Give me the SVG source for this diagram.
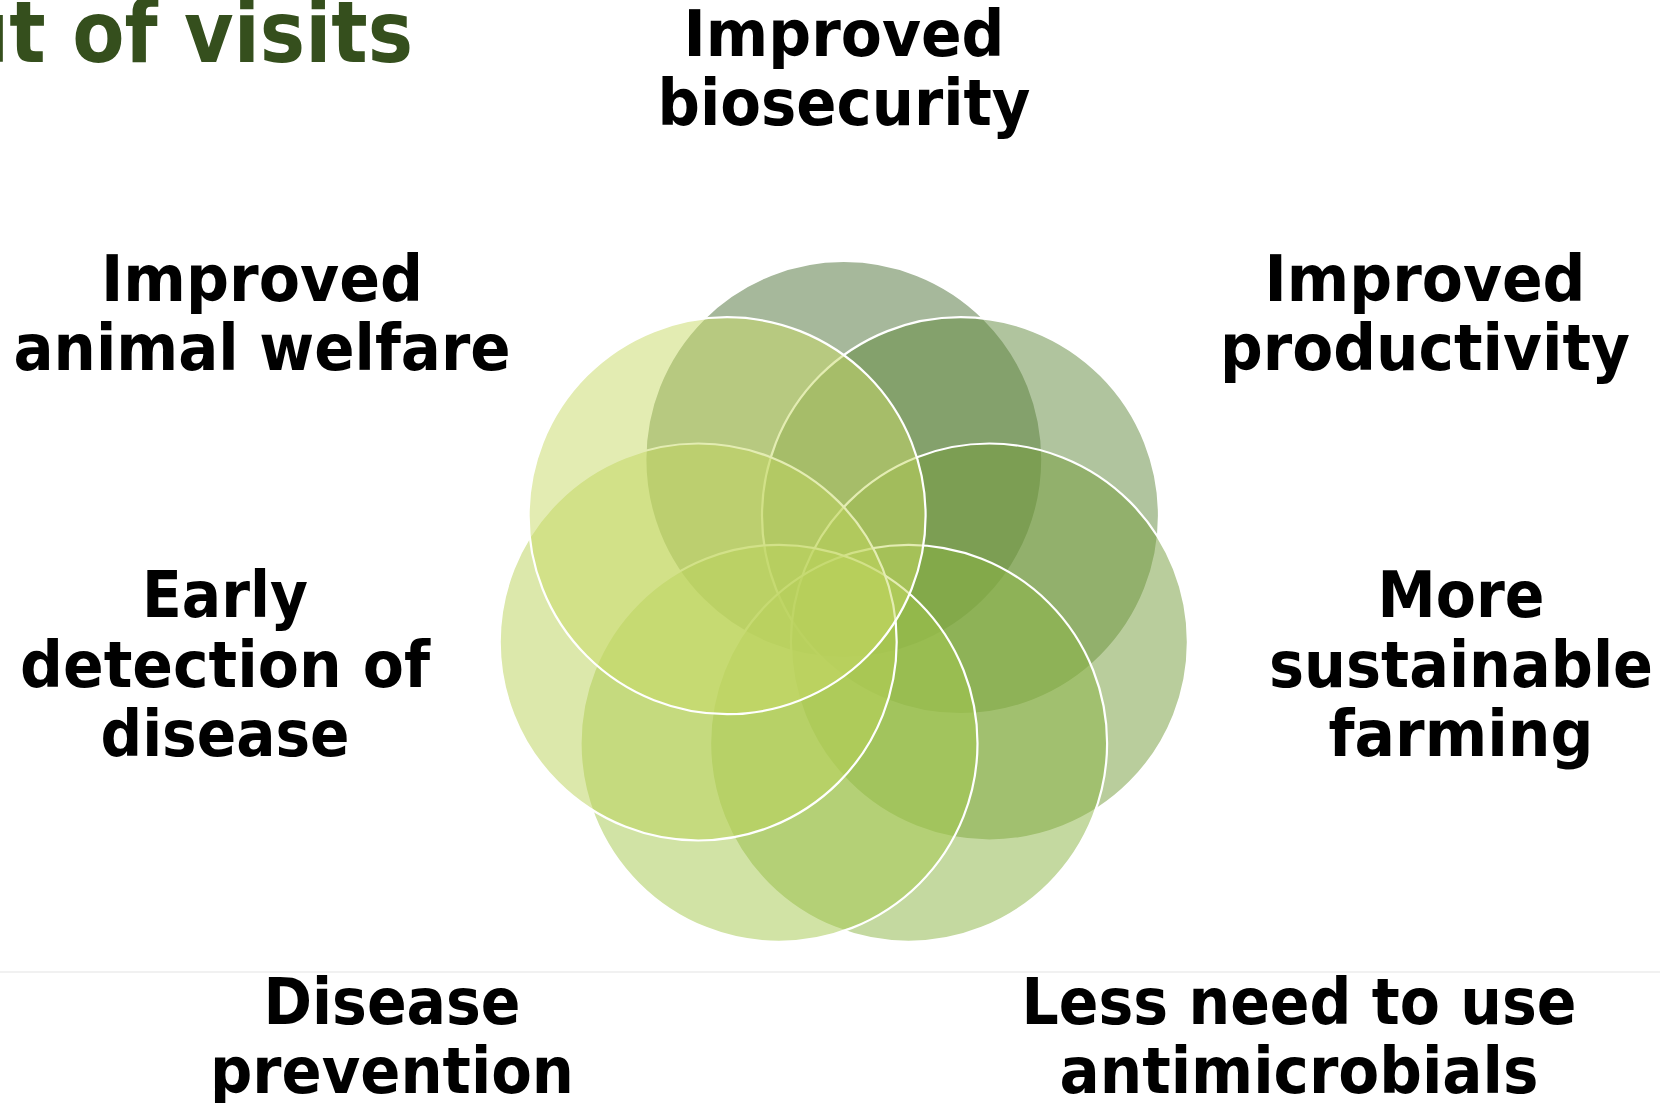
<svg xmlns="http://www.w3.org/2000/svg" width="1660" height="1103" viewBox="0 0 1660 1103">
<defs>
<style>
.lbl{font-family:"DejaVu Sans","Liberation Sans",sans-serif;font-weight:700;font-size:64px;fill:#000;text-anchor:middle}
.ttl{font-family:"DejaVu Sans","Liberation Sans",sans-serif;font-weight:700;font-size:86px;fill:#354f1d;text-anchor:end}
.c{fill-opacity:0.5;stroke:#fff;stroke-width:2.2}
</style>
</defs>
<rect width="1660" height="1103" fill="#fff"/>
<g id="title"><text class="ttl" x="413" y="62" textLength="458" lengthAdjust="spacingAndGlyphs">ut of visits</text></g>
<g id="divider"><line x1="0" y1="972" x2="1660" y2="972" stroke="#ececec" stroke-width="1.5"/></g>
<g id="circles">
<circle id="c-top" class="c" cx="843.8" cy="459.5" r="198.5" fill="#4d7137" stroke="none"/>
<circle id="c-ur" class="c" cx="960.5" cy="515.7" r="198.5" fill="#61893d"/>
<circle id="c-r" class="c" cx="989.4" cy="642.0" r="198.5" fill="#739b39"/>
<circle id="c-br" class="c" cx="908.6" cy="743.3" r="198.5" fill="#89b341"/>
<circle id="c-bl" class="c" cx="779.0" cy="743.3" r="198.5" fill="#a3c74b"/>
<circle id="c-l" class="c" cx="698.2" cy="642.0" r="198.5" fill="#b9d157"/>
<circle id="c-ul" class="c" cx="727.1" cy="515.7" r="198.5" fill="#c7d965"/>
</g>
<g id="connectors"></g>
<g id="n-biosecurity">
<text class="lbl" x="844" y="56" textLength="321" lengthAdjust="spacingAndGlyphs">Improved</text>
<text class="lbl" x="844" y="125" textLength="373" lengthAdjust="spacingAndGlyphs">biosecurity</text>
</g>
<g id="n-welfare">
<text class="lbl" x="262" y="301" textLength="322" lengthAdjust="spacingAndGlyphs">Improved</text>
<text class="lbl" x="262" y="370" textLength="497" lengthAdjust="spacingAndGlyphs">animal welfare</text>
</g>
<g id="n-productivity">
<text class="lbl" x="1425" y="301" textLength="321" lengthAdjust="spacingAndGlyphs">Improved</text>
<text class="lbl" x="1425" y="370" textLength="410" lengthAdjust="spacingAndGlyphs">productivity</text>
</g>
<g id="n-detection">
<text class="lbl" x="225" y="617" textLength="166" lengthAdjust="spacingAndGlyphs">Early</text>
<text class="lbl" x="225" y="687" textLength="410" lengthAdjust="spacingAndGlyphs">detection of</text>
<text class="lbl" x="225" y="756" textLength="249" lengthAdjust="spacingAndGlyphs">disease</text>
</g>
<g id="n-sustainable">
<text class="lbl" x="1461" y="617" textLength="167" lengthAdjust="spacingAndGlyphs">More</text>
<text class="lbl" x="1461" y="687" textLength="384" lengthAdjust="spacingAndGlyphs">sustainable</text>
<text class="lbl" x="1461" y="756" textLength="265" lengthAdjust="spacingAndGlyphs">farming</text>
</g>
<g id="n-prevention">
<text class="lbl" x="392" y="1024" textLength="257" lengthAdjust="spacingAndGlyphs">Disease</text>
<text class="lbl" x="392" y="1093" textLength="364" lengthAdjust="spacingAndGlyphs">prevention</text>
</g>
<g id="n-antimicrobials">
<text class="lbl" x="1299" y="1024" textLength="555" lengthAdjust="spacingAndGlyphs">Less need to use</text>
<text class="lbl" x="1299" y="1093" textLength="479" lengthAdjust="spacingAndGlyphs">antimicrobials</text>
</g>
</svg>
